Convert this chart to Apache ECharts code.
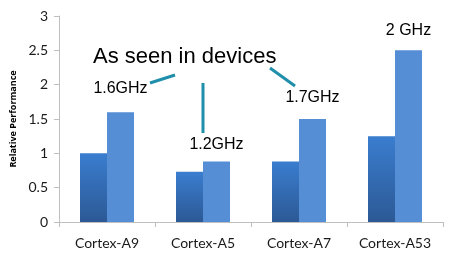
<!DOCTYPE html>
<html><head><meta charset="utf-8">
<script src="https://cdn.jsdelivr.net/npm/echarts@6/dist/echarts.min.js"></script>
<style>html,body{margin:0;padding:0;background:#fff}#c{width:460px;height:262px}</style>
</head><body><div id="c"></div>
<script>
const categories = ['Cortex-A9', 'Cortex-A5', 'Cortex-A7', 'Cortex-A53'];
const baseValues = [1.0, 0.73, 0.88, 1.25];
const deviceValues = [1.6, 0.88, 1.5, 2.5];
const freqLabels = ['1.6GHz', '1.2GHz', '1.7GHz', '2 GHz'];
const labelDistances = [16, 9, 13, 12];
const yTicks = [0, 0.5, 1, 1.5, 2, 2.5, 3];

const chart = echarts.init(document.getElementById('c'), null, {renderer: 'canvas'});
const axisColor = '#bfbfbf';
chart.setOption({
  animation: false,
  grid: {left: 59, right: 17, top: 16, bottom: 40},
  xAxis: {
    type: 'category', data: categories,
    axisLine: {lineStyle: {color: axisColor}},
    axisTick: {show: true, length: 5, lineStyle: {color: axisColor}},
    axisLabel: {color: '#1a1a1a', fontFamily: 'Lato', fontSize: 14, margin: 14}
  },
  yAxis: {
    type: 'value', min: yTicks[0], max: yTicks[yTicks.length - 1], interval: 0.5,
    name: 'Relative Performance', nameLocation: 'middle', nameGap: 39,
    nameTextStyle: {fontFamily: 'Open Sans', fontWeight: 'bold', fontSize: 9, color: '#000'},
    axisLine: {show: true, lineStyle: {color: axisColor}},
    axisTick: {show: true, length: 5, lineStyle: {color: axisColor}},
    splitLine: {show: false},
    axisLabel: {color: '#1a1a1a', fontFamily: 'Lato', fontSize: 14, margin: 11}
  },
  series: [
    {
      type: 'bar', data: baseValues, barWidth: 27, barGap: '0%',
      itemStyle: {color: new echarts.graphic.LinearGradient(0, 0, 0, 1, [
        {offset: 0, color: '#3a7dcf'}, {offset: 1, color: '#2c5995'}])}
    },
    {
      type: 'bar', data: deviceValues.map((v, i) => ({
        value: v,
        label: {show: true, position: 'top', distance: labelDistances[i], formatter: freqLabels[i]}
      })), barWidth: 27,
      itemStyle: {color: '#558ed5'},
      label: {fontFamily: 'Liberation Sans', fontSize: 16, color: '#000'}
    }
  ],
  graphic: [
    {type: 'text', left: 93, top: 46, style: {text: 'As seen in devices', font: '22px "Liberation Sans"', fill: '#000'}},
    {type: 'line', shape: {x1: 150, y1: 83, x2: 175, y2: 75}, style: {stroke: '#1f8fab', lineWidth: 3}},
    {type: 'line', shape: {x1: 203, y1: 83, x2: 203, y2: 133}, style: {stroke: '#1f8fab', lineWidth: 3}},
    {type: 'line', shape: {x1: 270, y1: 68, x2: 295, y2: 86}, style: {stroke: '#1f8fab', lineWidth: 3}}
  ]
});
</script></body></html>
